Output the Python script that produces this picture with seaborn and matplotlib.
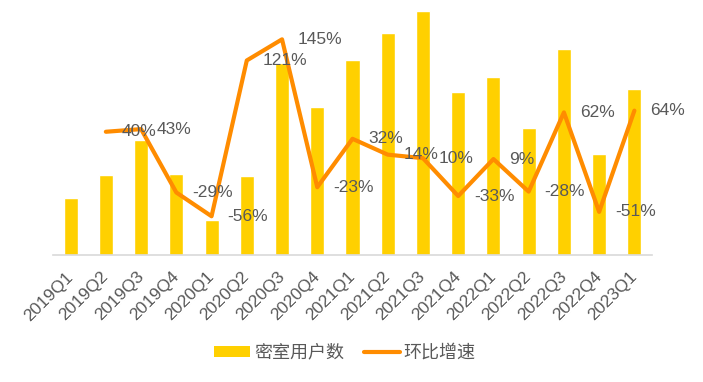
import numpy as np
import pandas as pd
import matplotlib
matplotlib.use("Agg")
import matplotlib.pyplot as plt
import seaborn as sns
from matplotlib.patches import Patch
from matplotlib.lines import Line2D

# --- Datos ---
quarters = ["2019Q1", "2019Q2", "2019Q3", "2019Q4",
            "2020Q1", "2020Q2", "2020Q3", "2020Q4",
            "2021Q1", "2021Q2", "2021Q3", "2021Q4",
            "2022Q1", "2022Q2", "2022Q3", "2022Q4",
            "2023Q1"]
# 密室用户数 (unidades relativas)
users = [57, 80, 115, 81, 35, 79, 192, 148, 195, 222, 244, 163, 178, 127, 206, 101, 166]
# 环比增速 (%), empieza en 2019Q2
growth = [40, 43, -29, -56, 121, 145, -23, 32, 14, 10, -33, 9, -28, 62, -51, 64]

BAR_COLOR = "#FFD000"
LINE_COLOR = "#FF8C00"
TEXT_COLOR = "#595959"

sns.set_theme(style="white")
plt.rcParams["font.family"] = ["Liberation Sans", "Noto Sans CJK SC", "DejaVu Sans"]

df_bar = pd.DataFrame({"quarter": quarters, "users": users})
df_line = pd.DataFrame({"pos": np.arange(len(quarters))[1:],
                        "growth": np.array(growth) / 100})

fig = plt.figure(figsize=(7.03, 3.82), dpi=100)
ax = fig.add_axes([53 / 703, 127 / 382, 599 / 703, 250 / 382])

sns.barplot(data=df_bar, x="quarter", y="users", color=BAR_COLOR,
            width=0.4, saturation=1, ax=ax)
ax.set_ylim(0, 250)
ax.set_xlim(-0.5, len(quarters) - 0.5)
ax.set_xlabel("")
ax.set_ylabel("")
ax.set_yticks([])
for s in ["top", "left", "right"]:
    ax.spines[s].set_visible(False)
ax.spines["bottom"].set_color("#D9D9D9")
ax.spines["bottom"].set_linewidth(1.2)
ax.tick_params(axis="x", length=0, pad=14, labelsize=12.5, labelcolor=TEXT_COLOR)
plt.setp(ax.get_xticklabels(), rotation=45, ha="right", va="center",
         rotation_mode="anchor")

ax2 = ax.twinx()
sns.lineplot(data=df_line, x="pos", y="growth", color=LINE_COLOR,
             linewidth=3, ax=ax2, solid_joinstyle="round", solid_capstyle="round")
ax2.set_ylim(-1, 1.84)
ax2.set_yticks([])
ax2.set_ylabel("")
ax2.set_xlabel("")
for s in ax2.spines.values():
    s.set_visible(False)

for x, g in zip(df_line["pos"], growth):
    ax2.annotate(f"{g}%", (x, g / 100), xytext=(11.5, 0), textcoords="offset points",
                 ha="left", va="center", fontsize=12.5, color=TEXT_COLOR)

handles = [Patch(facecolor=BAR_COLOR, edgecolor="none"),
           Line2D([0], [0], color=LINE_COLOR, linewidth=3)]
fig.legend(handles, ["密室用户数", "环比增速"], loc="center",
           bbox_to_anchor=(345 / 703, 29 / 382), ncol=2, frameon=False,
           fontsize=13, labelcolor=TEXT_COLOR, handlelength=2.0,
           handleheight=0.55, handletextpad=0.2, columnspacing=1.1)

fig.savefig("out.png", dpi=100)
